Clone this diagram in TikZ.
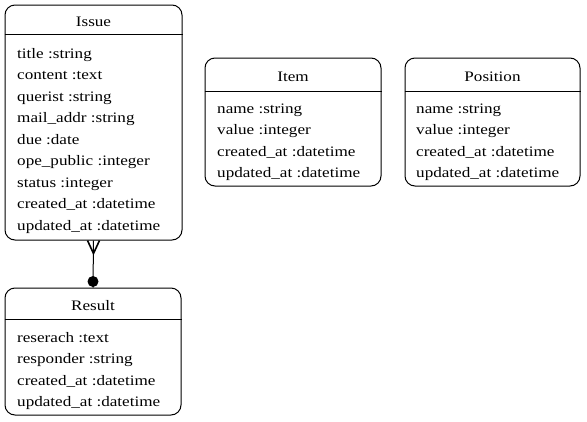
\documentclass[tikz,border=0pt]{standalone}
\usepackage{fontspec}
\setmainfont[FakeStretch=1.18]{Liberation Serif}
\usetikzlibrary{calc}

\tikzset{
  entity/.style={draw, line width=1pt, rounded corners=10pt, inner sep=0pt},
  head/.style={anchor=base, inner sep=0pt, font=\fontsize{14.5}{18}\selectfont},
  attr/.style={anchor=base west, inner sep=0pt, font=\fontsize{14.5}{18}\selectfont},
  link/.style={line width=1pt}
}

\begin{document}
\begin{tikzpicture}[x=1pt, y=-1pt]
  \useasboundingbox (0,0) rectangle (587,421);

  % Issue
  \node[entity, minimum width=177pt, minimum height=235pt] (issue) at (93.5,122.5) {};
  \draw[line width=1pt] (issue.west |- 0,34) -- (issue.east |- 0,34);
  \node[head] (issue-title) at (93.5,26.5) {Issue};
  \foreach \txt [count=\i] in {title :string, content :text, querist :string,
      mail\_addr :string, due :date, ope\_public :integer, status :integer,
      created\_at :datetime, updated\_at :datetime}
    \node[attr] (issue-\i) at (17,58+21.5*\i-21.5) {\txt};

  % Item
  \node[entity, minimum width=176pt, minimum height=128pt] (item) at (293,122) {};
  \draw[line width=1pt] (item.west |- 0,91) -- (item.east |- 0,91);
  \node[head] (item-title) at (293,81.5) {Item};
  \foreach \txt [count=\i] in {name :string, value :integer,
      created\_at :datetime, updated\_at :datetime}
    \node[attr] (item-\i) at (217,113+21.5*\i-21.5) {\txt};

  % Position
  \node[entity, minimum width=175pt, minimum height=128pt] (position) at (492.5,122) {};
  \draw[line width=1pt] (position.west |- 0,91) -- (position.east |- 0,91);
  \node[head] (position-title) at (492.5,81.5) {Position};
  \foreach \txt [count=\i] in {name :string, value :integer,
      created\_at :datetime, updated\_at :datetime}
    \node[attr] (position-\i) at (416,113+21.5*\i-21.5) {\txt};

  % Result
  \node[entity, minimum width=176pt, minimum height=127pt] (result) at (93,351.5) {};
  \draw[line width=1pt] (result.west |- 0,319) -- (result.east |- 0,319);
  \node[head] (result-title) at (93,310) {Result};
  \foreach \txt [count=\i] in {reserach :text, responder :string,
      created\_at :datetime, updated\_at :datetime}
    \node[attr] (result-\i) at (17,342+21.5*\i-21.5) {\txt};

  % Issue -< Result
  \coordinate (fork) at ($(issue.south)+(0,13)$);
  \draw[link] (issue.south) -- (result.north);
  \draw[link, line width=1.6pt] ($(issue.south)+(-6,0)$) -- (fork) -- ($(issue.south)+(6,0)$);
  \fill ($(result.north)+(0,-6)$) circle (5.5pt);
\end{tikzpicture}
\end{document}
